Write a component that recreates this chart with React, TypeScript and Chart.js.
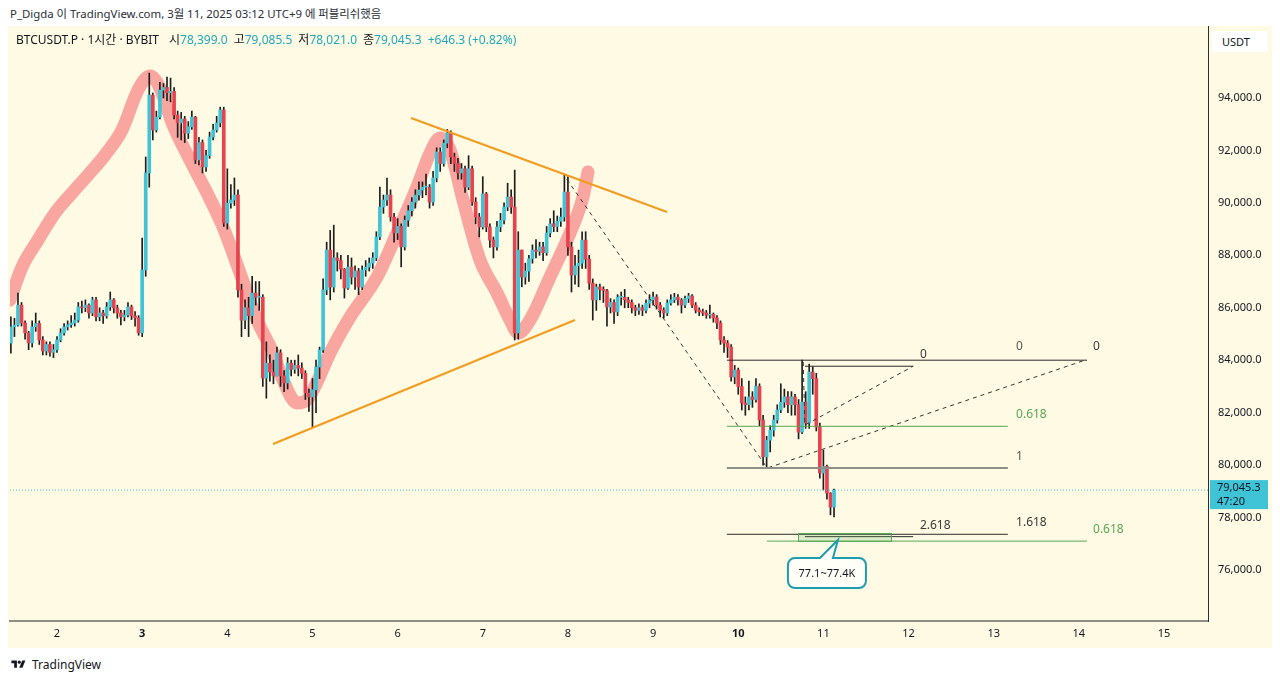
import React, { useEffect, useRef } from "react";
import { Chart, registerables } from "chart.js";

Chart.register(...registerables);

const FONT = '"Noto Sans", "Noto Sans CJK KR", sans-serif';

// ---- candle data: hourly, x = hours since 2 Mar 00:00 (UTC+9); first candle 1 Mar 11:00
const FIRST_HOUR = -13;
const FIRST_OPEN = 84650;
const CLOSES = [
  85270, 85340, 86100, 85420, 85040, 84660, 85270, 85400, 84770, 84350,
  84600, 84300, 84400, 84770, 85040, 85270, 85350, 85420, 85530, 86030,
  86000, 86100, 85800, 86300, 85650, 85800, 85690, 86030, 86300, 85990,
  85800, 85650, 85720, 86030, 85690, 85610, 85040, 87440, 91140, 94110,
  92780, 93270, 94300, 94400, 94200, 94250, 93350, 93050, 93200, 92660,
  92900, 93270, 91640, 92300, 91370, 91800, 92510, 92780, 93050, 93540,
  89230, 89990, 90110, 90300, 86680, 85530, 86000, 85700, 86560, 86400,
  86400, 83320, 83890, 83550, 83400, 84280, 83400, 83130, 83890, 83650,
  83800, 83700, 83500, 82750, 82600, 82870, 83740, 84390, 86680, 88200,
  86790, 87900, 87800, 87470, 86750, 87550, 87170, 87400, 86790, 87440,
  87550, 87700, 87900, 88700, 89840, 90110, 90300, 89460, 88850, 89100,
  88320, 89340, 89700, 90030, 90300, 90490, 90600, 90600, 90030, 90950,
  91940, 91500, 92280, 92660, 91750, 91500, 91140, 91300, 90600, 91300,
  90030, 89460, 89080, 90340, 89080, 88580, 88320, 89080, 89340, 89840,
  90220, 89840, 85040, 88200, 87170, 87400, 87870, 88200, 88150, 88320,
  88100, 88850, 89200, 89100, 89300, 89460, 90410, 88320, 87250, 87600,
  87700, 88580, 87850, 86940, 86300, 86790, 86700, 86650, 86030, 86200,
  85840, 86400, 86400, 86300, 86200, 86000, 85900, 86000, 85900, 86170,
  86300, 86410, 86100, 85910, 85800, 86180, 86300, 86400, 86300, 86100,
  86350, 86450, 86100, 85910, 85850, 85800, 85720, 85750, 85610, 85420,
  84770, 84650, 84500, 83360, 83620, 83000, 82370, 82300, 82600, 82500,
  83000, 81720, 80310, 80950, 81330, 81720, 82100, 82400, 82600, 82300,
  82600, 82300, 81260, 82400, 81600, 83550, 83300, 81450, 79700, 79950,
  78930, 78399, 79045.3,
];
const HIGHS = [
  85650, 85600, 86560, 86200, 85500, 85100, 85500, 85800, 85500, 84900,
  84700, 84700, 84600, 84900, 85200, 85400, 85500, 85700, 85800, 86200,
  86250, 86300, 86150, 86400, 86400, 86000, 85900, 86200, 86600, 86350,
  86100, 85900, 85900, 86200, 86100, 85850, 85700, 88660, 91750, 94950,
  94190, 93500, 94600, 94550, 94800, 94760, 94400, 93500, 93450, 93300,
  93100, 93500, 93300, 92500, 92400, 92000, 92700, 93000, 93300, 93650,
  93650, 91300, 90700, 90950, 90500, 86900, 86300, 86400, 87200, 87000,
  87000, 86500, 84700, 84200, 84000, 84500, 84400, 83600, 84100, 84000,
  84000, 84200, 83900, 83600, 82900, 83300, 84000, 84500, 87100, 88500,
  88950, 89150, 88100, 88000, 87500, 88000, 87900, 87600, 87500, 87600,
  87800, 87900, 88100, 88900, 90600, 90300, 90950, 90500, 89600, 89400,
  89200, 89500, 89900, 90200, 90500, 90800, 90800, 91100, 90700, 91200,
  92100, 92100, 92400, 92800, 92750, 91900, 91700, 91500, 91400, 91800,
  91400, 90200, 89600, 91000, 90400, 89200, 88700, 89300, 89600, 90000,
  90750, 90500, 91250, 88900, 88200, 87700, 88000, 88400, 88600, 88500,
  88500, 89100, 89400, 89700, 89500, 89800, 91060, 91000, 88500, 88000,
  88200, 88900, 88900, 88000, 87100, 86900, 86900, 86800, 86700, 86350,
  86300, 86500, 86600, 86700, 86400, 86300, 86100, 86150, 86100, 86300,
  86500, 86600, 86500, 86200, 86000, 86300, 86500, 86550, 86500, 86350,
  86450, 86550, 86500, 86200, 86000, 85950, 85900, 86100, 85800, 85700,
  85500, 84900, 84750, 84600, 83800, 83700, 83300, 82600, 83200, 82800,
  83300, 83100, 81900, 81100, 81500, 81900, 82300, 83100, 82900, 82800,
  82800, 82700, 82500, 84000, 82800, 83850, 83750, 83500, 81600, 80570,
  80000, 78950, 79085.5,
];
const LOWS = [
  84270, 84900, 85300, 85300, 84800, 84400, 84500, 85100, 84600, 84200,
  84200, 84150, 84100, 84300, 84700, 84950, 85150, 85250, 85300, 85450,
  85800, 85850, 85600, 85700, 85500, 85500, 85400, 85600, 85900, 85800,
  85600, 85350, 85500, 85650, 85550, 85300, 84950, 84900, 87200, 90600,
  92400, 92700, 93200, 94000, 93900, 93850, 93200, 92500, 92400, 92300,
  92450, 92800, 91500, 91450, 91140, 91200, 91700, 92400, 92700, 92900,
  89100, 89000, 89800, 89900, 86400, 84900, 85200, 84900, 85400, 86100,
  85900, 83000, 82550, 83200, 83100, 83400, 83000, 82800, 82900, 83400,
  83500, 83400, 83300, 82500, 82050, 81450, 82000, 83300, 84300, 86500,
  86300, 86600, 87400, 87100, 86370, 86700, 86900, 86700, 86500, 86700,
  87200, 87400, 87500, 87800, 88600, 89600, 89900, 89300, 88500, 88600,
  87560, 88200, 89100, 89500, 89800, 90100, 90200, 90300, 89800, 89900,
  90800, 91200, 91400, 92100, 91500, 91200, 90900, 90900, 90400, 90500,
  89900, 89200, 88700, 89000, 88900, 88300, 87900, 88200, 88900, 89200,
  89700, 89600, 84770, 84800, 86800, 86900, 87000, 87700, 87900, 88000,
  87800, 88000, 88700, 88900, 88900, 89100, 89300, 88000, 86600, 86900,
  86800, 87500, 87500, 86700, 85530, 85900, 86300, 86200, 85300, 85800,
  85400, 85700, 86100, 86000, 86000, 85800, 85700, 85750, 85700, 85800,
  86000, 86100, 85950, 85650, 85600, 85700, 86100, 86200, 86100, 85800,
  86000, 86200, 86000, 85800, 85700, 85700, 85600, 85600, 85450, 85200,
  84600, 84300, 84100, 83200, 83100, 82700, 82100, 81900, 82100, 82200,
  82400, 81500, 80000, 79890, 80500, 81100, 81600, 82000, 82200, 82000,
  81900, 81900, 81000, 81200, 81400, 81400, 82700, 81300, 79500, 79050,
  78700, 78100, 78021,
];

// ---- axes
const DAY_TICKS = [0, 24, 48, 72, 96, 120, 144, 168, 192, 216, 240, 264, 288, 312];
const DAY_LABELS = ["2", "3", "4", "5", "6", "7", "8", "9", "10", "11", "12", "13", "14", "15"];
const BOLD_LABELS = ["3", "10"];
const PRICE_TICKS = [76000, 78000, 80000, 82000, 84000, 86000, 88000, 90000, 92000, 94000];
const X_RANGE = [-13.25, 324.4];
const Y_RANGE = [74053, 96746];
const COUNTDOWN = "47:20";

// ---- drawings (data coordinates: hour, price)
const BRUSH_X = [-13.25, -9.86, -5.36, -0.56, 4.23, 8.74, 13.53, 18.32, 22.83, 26.21, 29.03, 32.69, 37.49, 42.28, 46.79, 51.58, 56.37, 60.88, 63.7, 67.64, 70.46, 73.28, 76.94, 82.58, 90.19, 95.83, 101.47, 105.13, 107.95, 110.77, 114.43, 119.22, 124.01, 127.68, 129.93, 133.31, 138.95, 144.59, 148.25, 149.66];
const BRUSH_Y = [86296, 87554, 88584, 89614, 90377, 91063, 91826, 92780, 94305, 94839, 94381, 92970, 91635, 90377, 89080, 87326, 85533, 84274, 83245, 82367, 82482, 83168, 84274, 85647, 87173, 88851, 90606, 91902, 92474, 92017, 90110, 87821, 86563, 85533, 85037, 85533, 87173, 88851, 90224, 91178];

const WEDGE_TOP_X = [99.77, 171.93];
const WEDGE_TOP_Y = [93237, 89652];
const WEDGE_BOTTOM_X = [60.88, 146.0];
const WEDGE_BOTTOM_Y = [80804, 85533];

const DASH_A_X = [143.7, 200.1];
const DASH_A_Y = [90900, 79900];
const DASH_B_X = [200.5, 289.7];
const DASH_B_Y = [79900, 84000];
const DASH_C_X = [210.3, 210.8, 241.3];
const DASH_C_Y = [83931, 81528, 83770];

const FIB_PRICE = [84000, 83770, 81480, 79890, 77360, 77270, 77100];
const FIB_FROM = [188.8, 210.8, 188.8, 188.8, 188.8, 210.8, 200.1];
const FIB_TO = [290.3, 241.3, 268.0, 268.0, 268.0, 241.3, 290.3];
const FIB_KIND = ["dark", "dark", "green", "grey", "dark", "dark", "green"];

const FIB_TEXT = ["0", "0", "0", "0.618", "1", "1.618", "2.618", "0.618"];
const FIB_TEXT_X = [243.2, 270.3, 292.0, 270.3, 270.3, 270.3, 243.2, 292.0];
const FIB_TEXT_Y = [84198, 84503, 84503, 81910, 80308, 77790, 77676, 77523];
const FIB_TEXT_KIND = ["dark", "grey", "dark", "green", "grey", "dark", "dark", "green"];

const ZONE_X = [208.85, 235.06];
const ZONE_Y = [77100, 77400];
const NOTE_TEXT = "77.1~77.4K";
const NOTE_AT = [217.0, 75883];
const NOTE_TIP = [220.1, 77142];

// ---- styles
const CYAN = "#41c3d6";
const RED = "#e6434f";
const WICK = "#1d1d1d";
const CREAM = "#fefae4";
const KIND_COLOR: Record<string, string> = { dark: "#2b2b2b", grey: "#8f8f8a", green: "#5aa655" };
const KIND_TEXT: Record<string, string> = { dark: "#3a3a3a", grey: "#555", green: "#5aa655" };

function fmt(v: number) {
  const [a, b] = v.toFixed(1).split(".");
  return a.replace(/\B(?=(\d{3})+(?!\d))/g, ",") + "." + b;
}

const OPENS = [FIRST_OPEN, ...CLOSES.slice(0, -1)];
const HOURS = CLOSES.map((_, k) => FIRST_HOUR + k);
const N = CLOSES.length;
const LAST_O = OPENS[N - 1], LAST_H = HIGHS[N - 1], LAST_L = LOWS[N - 1], LAST_C = CLOSES[N - 1];
const CHG = LAST_C - LAST_O;
const CHG_PCT = (CHG / LAST_O) * 100;

function lineDs(xs: number[], ys: number[], color: string, width: number, dash: number[] = [], order = 3, extra: any = {}) {
  return {
    type: "line",
    data: xs.map((x, k) => ({ x, y: ys[k] })),
    borderColor: color,
    backgroundColor: color,
    borderWidth: width,
    borderDash: dash,
    pointRadius: 0,
    fill: false,
    tension: 0,
    order,
    ...extra,
  };
}

const overlayPlugin = {
  id: "overlay",
  afterDatasetsDraw(chart: any) {
    const { ctx, chartArea: a, scales } = chart;
    const x = scales.x, y = scales.y;
    ctx.save();
    ctx.beginPath();
    ctx.rect(a.left, a.top, a.right - a.left, a.bottom - a.top);
    ctx.clip();

    // target zone
    const zx0 = x.getPixelForValue(ZONE_X[0]), zx1 = x.getPixelForValue(ZONE_X[1]);
    const zy0 = y.getPixelForValue(ZONE_Y[1]), zy1 = y.getPixelForValue(ZONE_Y[0]);
    ctx.fillStyle = "rgba(102,187,106,0.22)";
    ctx.fillRect(zx0, zy0, zx1 - zx0, zy1 - zy0);
    ctx.strokeStyle = "#5aa655";
    ctx.lineWidth = 1;
    ctx.strokeRect(Math.round(zx0) + 0.5, Math.round(zy0) + 0.5, zx1 - zx0, zy1 - zy0);

    // fib level texts
    ctx.font = `12px ${FONT}`;
    ctx.textAlign = "left";
    ctx.textBaseline = "middle";
    FIB_TEXT.forEach((t, k) => {
      ctx.fillStyle = KIND_TEXT[FIB_TEXT_KIND[k]];
      ctx.fillText(t, x.getPixelForValue(FIB_TEXT_X[k]), y.getPixelForValue(FIB_TEXT_Y[k]));
    });

    // callout
    const cx = x.getPixelForValue(NOTE_AT[0]), cy = y.getPixelForValue(NOTE_AT[1]);
    const tx = x.getPixelForValue(NOTE_TIP[0]), ty = y.getPixelForValue(NOTE_TIP[1]);
    const w = 78, h = 30, r = 7;
    const l = cx - w / 2, t = cy - h / 2;
    ctx.beginPath();
    ctx.moveTo(l + r, t);
    ctx.lineTo(cx - 7, t);
    ctx.lineTo(tx, ty);
    ctx.lineTo(cx + 6, t);
    ctx.lineTo(l + w - r, t);
    ctx.arcTo(l + w, t, l + w, t + r, r);
    ctx.lineTo(l + w, t + h - r);
    ctx.arcTo(l + w, t + h, l + w - r, t + h, r);
    ctx.lineTo(l + r, t + h);
    ctx.arcTo(l, t + h, l, t + h - r, r);
    ctx.lineTo(l, t + r);
    ctx.arcTo(l, t, l + r, t, r);
    ctx.closePath();
    ctx.fillStyle = "#fffef7";
    ctx.fill();
    ctx.strokeStyle = "#1f9cae";
    ctx.lineWidth = 2;
    ctx.stroke();
    ctx.fillStyle = "#131722";
    ctx.textAlign = "center";
    ctx.font = `11px ${FONT}`;
    ctx.fillText(NOTE_TEXT, cx, cy + 0.5);
    ctx.restore();
  },
  afterDraw(chart: any) {
    const { ctx, chartArea: a, scales } = chart;
    const py = scales.y.getPixelForValue(LAST_C);
    ctx.save();
    ctx.fillStyle = "#3fc3d6";
    ctx.fillRect(a.right + 2, py - 10, 58, 29);
    ctx.fillStyle = "#131722";
    ctx.font = `11px ${FONT}`;
    ctx.textAlign = "left";
    ctx.textBaseline = "middle";
    ctx.fillText(fmt(LAST_C), a.right + 9, py - 2);
    ctx.fillText(COUNTDOWN, a.right + 9, py + 12);
    ctx.restore();
  },
};

export default function App() {
  const ref = useRef<HTMLCanvasElement>(null);

  useEffect(() => {
    if (!ref.current) return;
    const datasets: any[] = [];
    datasets.push(
      lineDs(BRUSH_X, BRUSH_Y, "rgba(242,100,105,0.56)", 13, [], 9, {
        cubicInterpolationMode: "monotone",
        borderCapStyle: "round",
        borderJoinStyle: "round",
      })
    );
    datasets.push({
      type: "bar",
      data: HOURS.map((h, k) => ({ x: h, y: [LOWS[k], HIGHS[k]] })),
      backgroundColor: WICK,
      barThickness: 1,
      grouped: false,
      borderWidth: 0,
      order: 6,
    });
    datasets.push({
      type: "bar",
      data: HOURS.map((h, k) => ({ x: h, y: [OPENS[k], CLOSES[k]] })),
      backgroundColor: HOURS.map((_, k) => (CLOSES[k] >= OPENS[k] ? CYAN : RED)),
      barThickness: 3,
      minBarLength: 1,
      grouped: false,
      borderWidth: 0,
      order: 5,
    });
    FIB_PRICE.forEach((p, k) => {
      datasets.push(lineDs([FIB_FROM[k], FIB_TO[k]], [p, p], KIND_COLOR[FIB_KIND[k]], FIB_KIND[k] === "grey" ? 2 : 1, [], 4));
    });
    datasets.push(lineDs(DASH_A_X, DASH_A_Y, "#333", 1, [4, 4], 4));
    datasets.push(lineDs(DASH_B_X, DASH_B_Y, "#333", 1, [4, 4], 4));
    datasets.push(lineDs(DASH_C_X, DASH_C_Y, "#333", 1, [4, 4], 4));
    datasets.push(lineDs(WEDGE_TOP_X, WEDGE_TOP_Y, "#f39b1c", 2, [], 3));
    datasets.push(lineDs(WEDGE_BOTTOM_X, WEDGE_BOTTOM_Y, "#f39b1c", 2, [], 3));
    datasets.push(lineDs([X_RANGE[0], X_RANGE[1]], [LAST_C, LAST_C], "#3fc3d6", 1, [1, 2], 3));

    const chart = new Chart(ref.current, {
      type: "bar",
      data: { datasets },
      options: {
        animation: false,
        responsive: false,
        devicePixelRatio: 1,
        events: [],
        layout: { padding: { left: 2, right: 0, top: 0, bottom: 0 } },
        plugins: { legend: { display: false }, tooltip: { enabled: false } },
        scales: {
          x: {
            type: "linear",
            min: X_RANGE[0],
            max: X_RANGE[1],
            offset: false,
            grid: { display: false, drawTicks: false },
            border: { display: true, color: "#8e8e86", width: 2 },
            afterBuildTicks: (s: any) => {
              s.ticks = DAY_TICKS.map((v) => ({ value: v }));
            },
            afterFit: (s: any) => {
              s.height = 27;
              s.paddingLeft = 0;
              s.paddingRight = 0;
            },
            ticks: {
              autoSkip: false,
              maxRotation: 0,
              padding: 6,
              color: "#131722",
              font: (c: any) => {
                const lab = DAY_LABELS[DAY_TICKS.indexOf(c.tick ? c.tick.value : -1)];
                return { family: FONT, size: 11, weight: BOLD_LABELS.includes(lab) ? "bold" : "normal" };
              },
              callback: (v: any) => DAY_LABELS[DAY_TICKS.indexOf(Number(v))] ?? "",
            },
          },
          y: {
            type: "linear",
            position: "right",
            min: Y_RANGE[0],
            max: Y_RANGE[1],
            beginAtZero: false,
            grid: { display: false, drawTicks: false },
            border: { display: true, color: "#2a2e39", width: 1 },
            afterBuildTicks: (s: any) => {
              s.ticks = PRICE_TICKS.map((v) => ({ value: v }));
            },
            afterFit: (s: any) => {
              s.width = 64;
              s.paddingTop = 0;
              s.paddingBottom = 0;
            },
            ticks: {
              padding: 10,
              color: "#131722",
              font: { family: FONT, size: 11 },
              callback: (v: any) => fmt(Number(v)),
            },
          },
        },
      } as any,
      plugins: [overlayPlugin as any],
    } as any);
    return () => chart.destroy();
  }, []);

  const teal = { color: "#1fa9be" };
  return (
    <div style={{ position: "relative", width: 1264, height: 673, fontFamily: FONT }}>
      <div style={{ position: "absolute", left: 2, top: -2, fontSize: 11.4, lineHeight: "16px", color: "#2a2e39", whiteSpace: "nowrap" }}>
        P_Digda 이 TradingView.com, 3월 11, 2025 03:12 UTC+9 에 퍼블리쉬했음
      </div>
      <div style={{ position: "absolute", left: 0, top: 18, width: 1264, height: 622, background: CREAM }} />
      <canvas ref={ref} width={1264} height={622} style={{ position: "absolute", left: 0, top: 18, width: 1264, height: 622 }} />
      <div style={{ position: "absolute", left: 8, top: 24, fontSize: 12, lineHeight: "16px", color: "#131722", whiteSpace: "nowrap" }}>
        <span>BTCUSDT.P · 1시간 · BYBIT</span>
        <span style={{ marginLeft: 10 }}>시</span>
        <span style={teal}>{fmt(LAST_O)}</span>
        <span style={{ marginLeft: 6 }}>고</span>
        <span style={teal}>{fmt(LAST_H)}</span>
        <span style={{ marginLeft: 6 }}>저</span>
        <span style={teal}>{fmt(LAST_L)}</span>
        <span style={{ marginLeft: 6 }}>종</span>
        <span style={teal}>{fmt(LAST_C)}</span>
        <span style={{ ...teal, marginLeft: 6 }}>
          {(CHG >= 0 ? "+" : "") + CHG.toFixed(1)} ({(CHG >= 0 ? "+" : "") + CHG_PCT.toFixed(2)}%)
        </span>
      </div>
      <div style={{ position: "absolute", left: 1204, top: 23, width: 56, height: 21, background: "#ffffff", borderRadius: 4, fontSize: 11, lineHeight: "21px", color: "#131722", paddingLeft: 10, boxSizing: "border-box" }}>
        USDT
      </div>
      <div style={{ position: "absolute", left: 2, top: 648, height: 16, display: "flex", alignItems: "center", fontSize: 12, color: "#131722" }}>
        <svg width="17" height="11" viewBox="0 0 36 28" style={{ marginRight: 5 }}>
          <path d="M14 22H7V11H0V4h14v18z" fill="#131722" />
          <circle cx="20" cy="8" r="4" fill="#131722" />
          <path d="M28 22h-8l7.5-18h8L28 22z" fill="#131722" />
        </svg>
        <span>TradingView</span>
      </div>
    </div>
  );
}
